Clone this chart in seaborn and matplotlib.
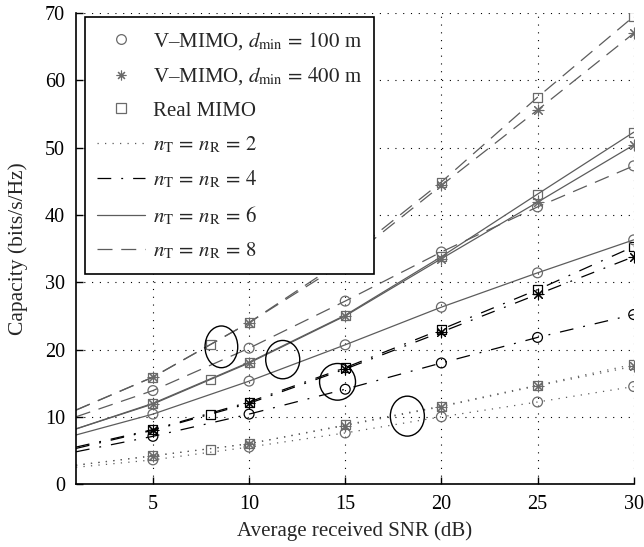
import numpy as np
import pandas as pd
import matplotlib
matplotlib.use("Agg")
import matplotlib.pyplot as plt
import seaborn as sns
from matplotlib.lines import Line2D
from matplotlib.patches import Ellipse

# ---------------- data ----------------
snr_line = [1, 5, 10, 15, 20, 25, 30]
snr_extra = 8  # extra Real-MIMO points

# n_T = n_R = 2
cap2_100 = [2.5, 3.6, 5.5, 7.6, 10.0, 12.2, 14.5]
cap2_400 = [2.8, 4.2, 6.0, 8.7, 11.5, 14.6, 17.5]
cap2_real = [2.8, 4.2, 6.0, 8.8, 11.6, 14.7, 17.8]
# n_T = n_R = 4
cap4_100 = [4.8, 7.1, 10.4, 14.1, 18.0, 21.8, 25.2]
cap4_400 = [5.3, 8.0, 12.0, 17.1, 22.6, 28.2, 33.8]
cap4_real = [5.5, 8.1, 12.2, 17.3, 23.0, 28.9, 35.3]
# n_T = n_R = 6
cap6_100 = [7.3, 10.4, 15.3, 20.7, 26.3, 31.4, 36.3]
cap6_400 = [8.2, 11.9, 18.0, 25.0, 33.5, 41.9, 50.4]
cap6_real = [8.2, 12.0, 18.1, 25.1, 33.8, 43.1, 52.3]
# n_T = n_R = 8
cap8_100 = [10.0, 13.9, 20.2, 27.2, 34.5, 41.2, 47.3]
cap8_400 = [11.0, 15.9, 24.0, 33.0, 44.4, 55.6, 67.0]
cap8_real = [11.0, 15.9, 24.0, 33.5, 44.9, 57.5, 69.5]

# Real MIMO at 8 dB for n = 2, 4, 6, 8
real_8db = [5.2, 10.4, 15.6, 20.8]

antennas = [2, 4, 6, 8]
legend_labels = [r"V–MIMO, $d_{\mathrm{min}}\,=\,100$ m",
                 r"V–MIMO, $d_{\mathrm{min}}\,=\,400$ m",
                 "Real MIMO"]

# annotation ellipses (center x, center y, width, height) in data units
ellipses = [(8.56, 20.4, 1.7, 6.2), (11.75, 18.5, 1.77, 5.7),
            (14.6, 15.2, 1.87, 5.45), (18.23, 10.1, 1.77, 5.94)]

# ---------------- style ----------------
sns.set_style("white")
plt.rcParams["font.family"] = ["Liberation Serif", "DejaVu Serif"]
plt.rcParams["mathtext.fontset"] = "stix"
plt.rcParams["font.size"] = 14

grey = "#5c5c5c"
mgrey = "#6a6a6a"
styles = {
    2: dict(color=grey, mcolor=mgrey, dashes=(1, 5)),
    4: dict(color="black", mcolor="black", dashes=(11, 8, 1.5, 8)),
    6: dict(color=grey, mcolor=mgrey, dashes=None),
    8: dict(color=grey, mcolor=mgrey, dashes=(12, 7)),
}

series = {
    2: (cap2_100, cap2_400, cap2_real),
    4: (cap4_100, cap4_400, cap4_real),
    6: (cap6_100, cap6_400, cap6_real),
    8: (cap8_100, cap8_400, cap8_real),
}

fig = plt.figure(figsize=(6.44, 5.47), dpi=100)
ax = fig.add_axes([0.118, 0.115, 0.866, 0.861])

markers = ["o", (8, 2, 0), "s"]
msizes = [50, 60, 42]

for i, n in enumerate(antennas):
    st = styles[n]
    for j, vals in enumerate(series[n]):
        df = pd.DataFrame({"snr": snr_line, "cap": vals})
        sns.lineplot(data=df, x="snr", y="cap", ax=ax, color=st["color"],
                     lw=0.9, sort=False, estimator=None)
        line = ax.lines[-1]
        if st["dashes"] is not None:
            line.set_dashes(st["dashes"])
        # markers
        mx = list(snr_line[1:])
        my = list(vals[1:])
        if j == 2:
            mx = mx + [snr_extra]
            my = my + [real_8db[i]]
        dfm = pd.DataFrame({"snr": mx, "cap": my})
        if j == 1:
            sns.scatterplot(data=dfm, x="snr", y="cap", ax=ax, marker=markers[j],
                            s=msizes[j], color=st["mcolor"], linewidth=0.8, zorder=3)
        else:
            sns.scatterplot(data=dfm, x="snr", y="cap", ax=ax, marker=markers[j],
                            s=msizes[j], facecolors="none", edgecolor=st["mcolor"],
                            linewidth=0.9, zorder=3)

for (cx, cy, w, h) in ellipses:
    ax.add_patch(Ellipse((cx, cy), w, h, fill=False, edgecolor="black", lw=1.0, zorder=4))

ax.set_xlim(1, 30)
ax.set_ylim(0, 70)
ax.set_xticks([5, 10, 15, 20, 25, 30])
ax.set_yticks(range(0, 71, 10))
ax.grid(True, color="black", linestyle=(0, (1, 6)), linewidth=0.8)
for s in ["top", "right"]:
    ax.spines[s].set_visible(False)
for s in ["left", "bottom"]:
    ax.spines[s].set_linewidth(1.2)
    ax.spines[s].set_color("black")
ax.tick_params(direction="in", length=5, width=1, labelsize=14.5, colors="black",
               left=True, bottom=True, pad=8)
ax.set_xlabel("Average received SNR (dB)", fontsize=15, labelpad=5)
ax.set_ylabel("Capacity (bits/s/Hz)", fontsize=15.5, labelpad=12)

handles = [
    Line2D([], [], ls="none", marker="o", mfc="none", mec=mgrey, ms=7, mew=0.9),
    Line2D([], [], ls="none", marker=(8, 2, 0), color=mgrey, ms=7, mew=0.8),
    Line2D([], [], ls="none", marker="s", mfc="none", mec=mgrey, ms=6.5, mew=0.9),
]
labels = list(legend_labels)
for n in antennas:
    st = styles[n]
    h = Line2D([], [], color=st["color"], lw=0.9)
    if st["dashes"] is not None:
        h.set_dashes(st["dashes"])
    handles.append(h)
    labels.append(r"$n_{\mathrm{T}}\,=\,n_{\mathrm{R}}\,=\,%d$" % n)

leg = ax.legend(handles, labels, loc="upper left", bbox_to_anchor=(0.016, 0.991),
                borderaxespad=0, fancybox=False, framealpha=1, edgecolor="black",
                handlelength=2.3, labelspacing=0.66, fontsize=15, borderpad=0.6,
                handletextpad=0.35)
leg.get_frame().set_linewidth(1.2)
leg.set_zorder(10)

fig.savefig("out.png", dpi=100)
